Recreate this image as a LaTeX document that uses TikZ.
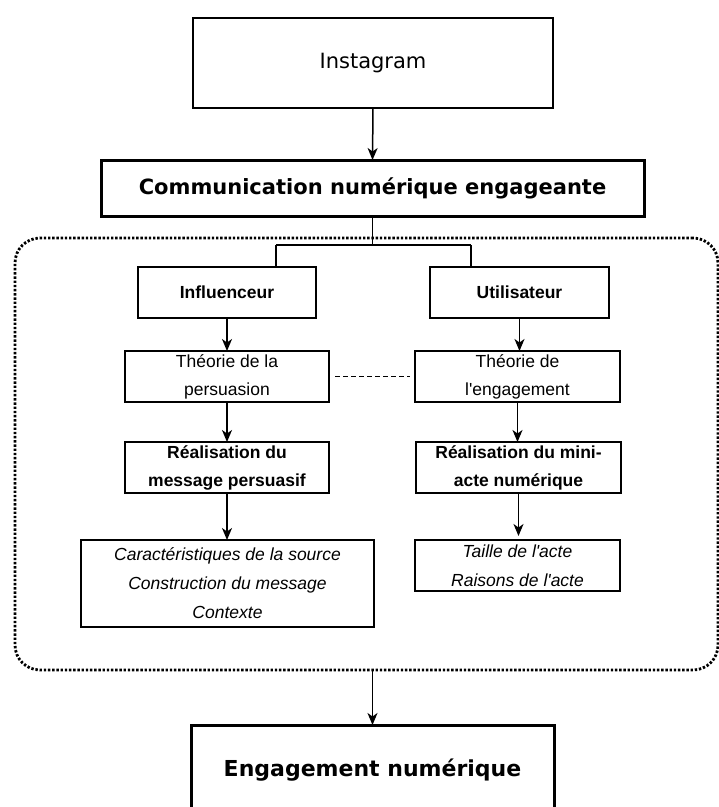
\documentclass[tikz,border=0pt]{standalone}
\usepackage{fontspec}
\setmainfont{Liberation Sans}
\newfontfamily\dvsans{DejaVu Sans}
\usetikzlibrary{arrows.meta}
\tikzset{
  box/.style={draw, line width=1.5pt, inner sep=0pt, outer sep=0pt, align=center,
    font=\fontsize{17.5}{28}\selectfont},
  bigbox/.style={draw, inner sep=0pt, outer sep=0pt, align=center},
  arr/.style={line width=1.5pt, -{Stealth[length=12pt,width=10pt,inset=3.5pt]}},
  link/.style={line width=1.5pt},
}
\begin{document}
\begin{tikzpicture}[x=1pt,y=-1pt]
\useasboundingbox (0,0) rectangle (719,807);
\clip (0,0) rectangle (719,807);
\fill[white] (0,0) rectangle (719,807);

\node[bigbox, line width=1.2pt, minimum width=360pt, minimum height=90pt,
  font=\dvsans\fontsize{21}{25}\selectfont] (insta) at (373,63) {Instagram};
\node[bigbox, line width=3pt, minimum width=543pt, minimum height=56pt,
  font=\dvsans\bfseries\fontsize{21}{25}\selectfont] (comm) at (372.5,188) {Communication numérique engageante};

\node[draw, line width=2.8pt, dash pattern=on 2.4pt off 1.8pt, rounded corners=25pt,
  minimum width=703pt, minimum height=432pt, inner sep=0pt, outer sep=0pt] (group) at (366.5,454) {};

\node[box, minimum width=178pt, minimum height=51pt, font=\bfseries\fontsize{17.5}{28}\selectfont] (influ) at (227,292.5) {Influenceur};
\node[box, minimum width=179pt, minimum height=51pt, font=\bfseries\fontsize{17.5}{28}\selectfont] (util) at (519.5,292.5) {Utilisateur};

\node[box, minimum width=204pt, minimum height=51pt] (tpers) at (227,376.5) {Théorie de la\\persuasion};
\node[box, minimum width=205pt, minimum height=51pt] (teng) at (517.5,376.5) {Théorie de\\l\textquotesingle engagement};

\node[box, minimum width=204pt, minimum height=51pt, font=\bfseries\fontsize{17.5}{28}\selectfont] (rpers) at (227,467.5) {Réalisation du\\message persuasif};
\node[box, minimum width=205pt, minimum height=51pt, font=\bfseries\fontsize{17.5}{28}\selectfont] (rmini) at (518.5,467.5) {Réalisation du mini-\\acte numérique};

\node[box, minimum width=293pt, minimum height=87pt, font=\itshape\fontsize{17.5}{29}\selectfont] (list1) at (227.5,583.5) {Caractéristiques de la source\\Construction du message\\Contexte};
\node[box, minimum width=205pt, minimum height=51pt, font=\itshape\fontsize{17.5}{29}\selectfont] (list2) at (517.5,565.5) {Taille de l\textquotesingle acte\\Raisons de l\textquotesingle acte};

\node[bigbox, line width=3pt, minimum width=363pt, minimum height=90pt,
  font=\dvsans\bfseries\fontsize{22}{26}\selectfont] (eng) at (372.5,770) {Engagement numérique};

% connectors
\draw[arr] (insta.south) -- (comm.north);
\coordinate (split) at (372.5,245);
\coordinate (splitL) at (276,245);
\coordinate (splitR) at (471,245);
\draw[link] (comm.south) -- (split);
\draw[link] (splitL) -- (splitL |- influ.north);
\draw[link] (splitL) -- (splitR);
\draw[link] (splitR) -- (splitR |- util.north);
\draw[arr] (influ.south) -- (tpers.north);
\draw[arr] (util.south) -- (util.south |- teng.north);
\draw[link, dash pattern=on 5pt off 3pt, shorten <=6pt, shorten >=5pt] (tpers.east) -- (teng.west);
\draw[arr] (tpers.south) -- (rpers.north);
\draw[arr] (teng.south) -- (teng.south |- rmini.north);
\draw[arr] (rpers.south) -- (rpers.south |- list1.north);
\draw[arr, shorten >=4pt] (rmini.south) -- (rmini.south |- list2.north);
\draw[arr] (group.south -| comm.south) -- (eng.north);
\end{tikzpicture}
\end{document}
